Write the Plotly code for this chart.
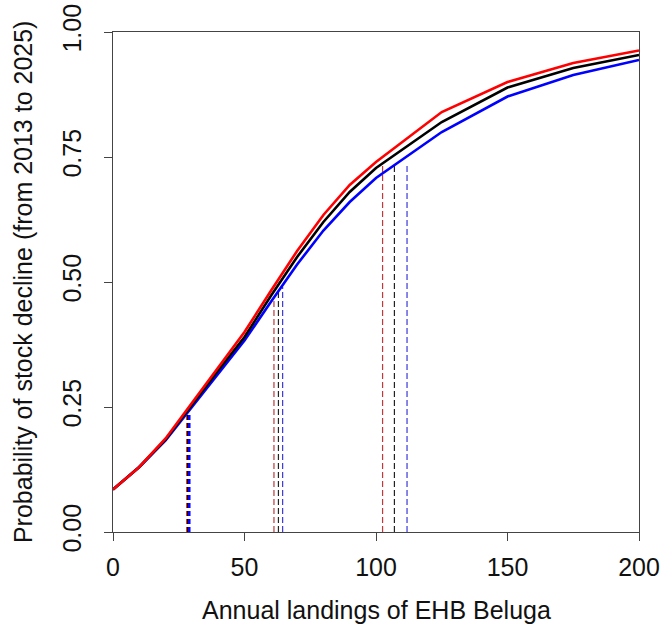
import plotly.graph_objects as go

# Data
landings = [0, 10, 20, 30, 40, 50, 60, 70, 80, 90, 100, 125, 150, 175, 200]
prob_black = [0.085, 0.13, 0.185, 0.255, 0.323, 0.39, 0.472, 0.55, 0.62, 0.68, 0.728, 0.82, 0.889, 0.928, 0.954]
prob_red = [0.085, 0.13, 0.187, 0.258, 0.33, 0.40, 0.482, 0.562, 0.634, 0.694, 0.74, 0.84, 0.90, 0.938, 0.963]
prob_blue = [0.085, 0.13, 0.183, 0.25, 0.317, 0.383, 0.46, 0.535, 0.603, 0.66, 0.708, 0.80, 0.871, 0.914, 0.944]

# Vertical dashed reference lines: (x, top y) for each series
ref_low_x = {"red": 28.3, "black": 28.6, "blue": 29.0}
ref_low_top = {"red": 0.24, "black": 0.24, "blue": 0.24}
ref_mid_x = {"red": 61.2, "black": 62.9, "blue": 64.5}
ref_mid_top = {"red": 0.468, "black": 0.48, "blue": 0.49}
ref_high_x = {"red": 102.5, "black": 107.0, "blue": 111.8}
ref_high_top = {"red": 0.735, "black": 0.737, "blue": 0.737}

x_ticks = [0, 50, 100, 150, 200]
y_ticks = [0.0, 0.25, 0.5, 0.75, 1.0]
y_tick_labels = ["0.00", "0.25", "0.50", "0.75", "1.00"]

colors = {"red": "#ff0000", "black": "#000000", "blue": "#0000ff"}
thin_colors = {"red": "#c0393b", "black": "#222222", "blue": "#3a3ad8"}

fig = go.Figure()

for key in ["red", "black", "blue"]:
    fig.add_trace(go.Scatter(x=[ref_low_x[key], ref_low_x[key]], y=[0, ref_low_top[key]], mode="lines",
                             line=dict(color=colors[key], width=2.5, dash="5px,3px"), showlegend=False, hoverinfo="skip"))
    fig.add_trace(go.Scatter(x=[ref_mid_x[key], ref_mid_x[key]], y=[0, ref_mid_top[key]], mode="lines",
                             line=dict(color=thin_colors[key], width=1.2, dash="6px,3px"), showlegend=False, hoverinfo="skip"))
    fig.add_trace(go.Scatter(x=[ref_high_x[key], ref_high_x[key]], y=[0, ref_high_top[key]], mode="lines",
                             line=dict(color=thin_colors[key], width=1.2, dash="6px,3px"), showlegend=False, hoverinfo="skip"))

for key, ys in [("blue", prob_blue), ("black", prob_black), ("red", prob_red)]:
    fig.add_trace(go.Scatter(x=landings, y=ys, mode="lines", line=dict(color=colors[key], width=2.6),
                             showlegend=False))

axis_font = dict(family="Liberation Sans, Arial, sans-serif", size=25, color="#111111")

fig.update_layout(
    width=660, height=634,
    margin=dict(l=113, r=21, t=32, b=102),
    paper_bgcolor="white", plot_bgcolor="white",
    font=axis_font,
    xaxis=dict(range=[0, 200], tickvals=x_ticks, showgrid=False, zeroline=False, automargin=False,
               showline=True, mirror=True, linecolor="#444444", linewidth=1.2,
               ticks="outside", ticklen=8, tickwidth=1.2, tickcolor="#444444",
               tickfont=axis_font, ticklabelstandoff=5, ticklabeloverflow="allow"),
    yaxis=dict(range=[0, 1], tickvals=y_ticks, ticktext=y_tick_labels, showgrid=False, zeroline=False,
               automargin=False,
               showline=True, mirror=True, linecolor="#444444", linewidth=1.2,
               ticks="outside", ticklen=8, tickwidth=1.2, tickcolor="#444444",
               tickangle=-90, tickfont=axis_font, ticklabelstandoff=13, ticklabeloverflow="allow"),
    annotations=[
        dict(text="Annual landings of EHB Beluga", xref="paper", yref="paper", x=0.5, y=-0.156,
             xanchor="center", yanchor="middle", showarrow=False, font=axis_font),
        dict(text="Probability of stock decline (from 2013 to 2025)", xref="paper", yref="paper",
             x=-0.171, y=0.5, xanchor="center", yanchor="middle", textangle=-90, showarrow=False,
             font=axis_font),
    ],
)

# Remove the default 8px page margin so the 660x634 figure fills the window exactly
fig.write_html("out.html", config={"displayModeBar": False},
               post_script="document.body.style.margin='0';document.body.style.overflow='hidden';")
